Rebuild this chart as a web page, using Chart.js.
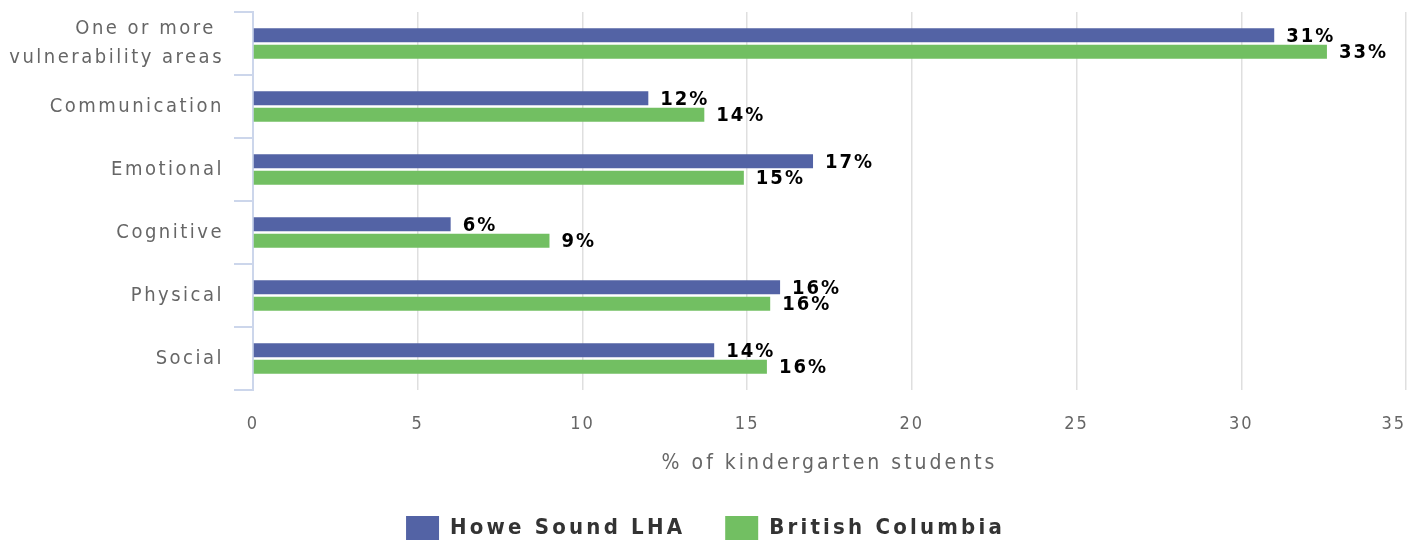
<!DOCTYPE html>
<html>
<head>
<meta charset="utf-8">
<script src="https://cdn.jsdelivr.net/npm/chart.js@4.4.1/dist/chart.umd.min.js"></script>
<style>
  html, body { margin: 0; padding: 0; background: #fff; overflow: hidden; }
  #wrap { width: 1411px; height: 550px; }
</style>
</head>
<body>
<div id="wrap"><canvas id="chart"></canvas></div>
<script>
const categories = [["One or more ", "vulnerability areas"], "Communication", "Emotional", "Cognitive", "Physical", "Social"];
const howeSound = [31, 12, 17, 6, 16, 14];
const britishColumbia = [32.6, 13.7, 14.9, 9.0, 15.7, 15.6];
const seriesNames = ["Howe Sound LHA", "British Columbia"];
const xMin = 0, xMax = 35, xStep = 5;
const xTitle = "% of kindergarten students";

const FONT = "'DejaVu Sans Condensed', 'DejaVu Sans', sans-serif";
const LEGEND_SPACING = "3.2px";

// canvas letterSpacing gets reset whenever the canvas is resized
const spacing = {
    id: "spacing",
    beforeUpdate(chart) { chart.ctx.letterSpacing = LEGEND_SPACING; },
    beforeLayout(chart) { chart.ctx.letterSpacing = LEGEND_SPACING; },
    beforeDraw(chart) { chart.ctx.letterSpacing = LEGEND_SPACING; }
};

// give one drawing method of a scale its own letter spacing
function spaced(scale, name, sp) {
    if (scale["_sp_" + name]) return;
    const orig = Object.getPrototypeOf(scale)[name];
    scale[name] = function (...args) {
        const c = this.ctx;
        const prev = c.letterSpacing;
        c.letterSpacing = sp;
        const r = orig.apply(this, args);
        c.letterSpacing = prev;
        return r;
    };
    scale["_sp_" + name] = true;
}

const valueLabels = {
    id: "valueLabels",
    afterDatasetsDraw(chart) {
        const ctx = chart.ctx;
        ctx.save();
        ctx.letterSpacing = "2px";
        ctx.font = "bold 20px " + FONT;
        ctx.fillStyle = "#000";
        ctx.textAlign = "left";
        ctx.textBaseline = "middle";
        chart.data.datasets.forEach((ds, i) => {
            chart.getDatasetMeta(i).data.forEach((bar, j) => {
                ctx.fillText(Math.round(ds.data[j]) + "%", bar.x + 12, bar.y + 1);
            });
        });
        ctx.restore();
    }
};

new Chart(document.getElementById("chart"), {
    type: "bar",
    data: {
        labels: categories,
        datasets: [
            { label: seriesNames[0], data: howeSound, backgroundColor: "#5363a5" },
            { label: seriesNames[1], data: britishColumbia, backgroundColor: "#72bf62" }
        ]
    },
    options: {
        indexAxis: "y",
        responsive: true,
        maintainAspectRatio: false,
        animation: false,
        categoryPercentage: 0.52,
        barPercentage: 0.86,
        layout: { padding: { top: 12, right: 0, left: 0, bottom: 0 } },
        plugins: {
            tooltip: { enabled: false },
            legend: {
                position: "bottom",
                labels: {
                    color: "#333",
                    font: { family: FONT, size: 22, weight: "bold" },
                    boxWidth: 33,
                    boxHeight: 24,
                    padding: 40
                }
            }
        },
        scales: {
            x: {
                min: xMin,
                max: xMax,
                ticks: { stepSize: xStep, color: "#666", font: { family: FONT, size: 18 }, padding: 24 },
                grid: { color: "#dfdfdf", drawTicks: false, lineWidth: 1.5 },
                border: { display: false },
                title: {
                    display: true,
                    text: xTitle,
                    color: "#666",
                    font: { family: FONT, size: 21 },
                    padding: { top: 0, bottom: 0 }
                },
                afterFit(scale) {
                    scale.height = 86;
                    scale.paddingRight = 5;
                    spaced(scale, "drawLabels", "2px");
                    spaced(scale, "drawTitle", "3px");
                    // keep the last tick label inside the canvas
                    if (!scale._lastShift) {
                        const orig = Object.getPrototypeOf(scale)._computeLabelItems;
                        scale._computeLabelItems = function (area) {
                            const items = orig.call(this, area);
                            const last = items[items.length - 1];
                            if (last && last.options && last.options.translation) {
                                last.options.textAlign = "right";
                                last.options.translation[0] = this.right;
                            }
                            return items;
                        };
                        scale._lastShift = true;
                    }
                }
            },
            y: {
                ticks: { autoSkip: false, color: "#666", font: { family: FONT, size: 20, lineHeight: 1.45 }, padding: 10 },
                grid: { drawOnChartArea: false, color: "#ccd6eb", tickLength: 19, lineWidth: 2 },
                border: { color: "#ccd6eb", width: 2 },
                afterFit(scale) {
                    scale.width = 253;
                    scale.paddingTop = 0;
                    scale.paddingBottom = 0;
                    spaced(scale, "drawLabels", "2.5px");
                }
            }
        }
    },
    plugins: [spacing, valueLabels]
});
</script>
</body>
</html>
